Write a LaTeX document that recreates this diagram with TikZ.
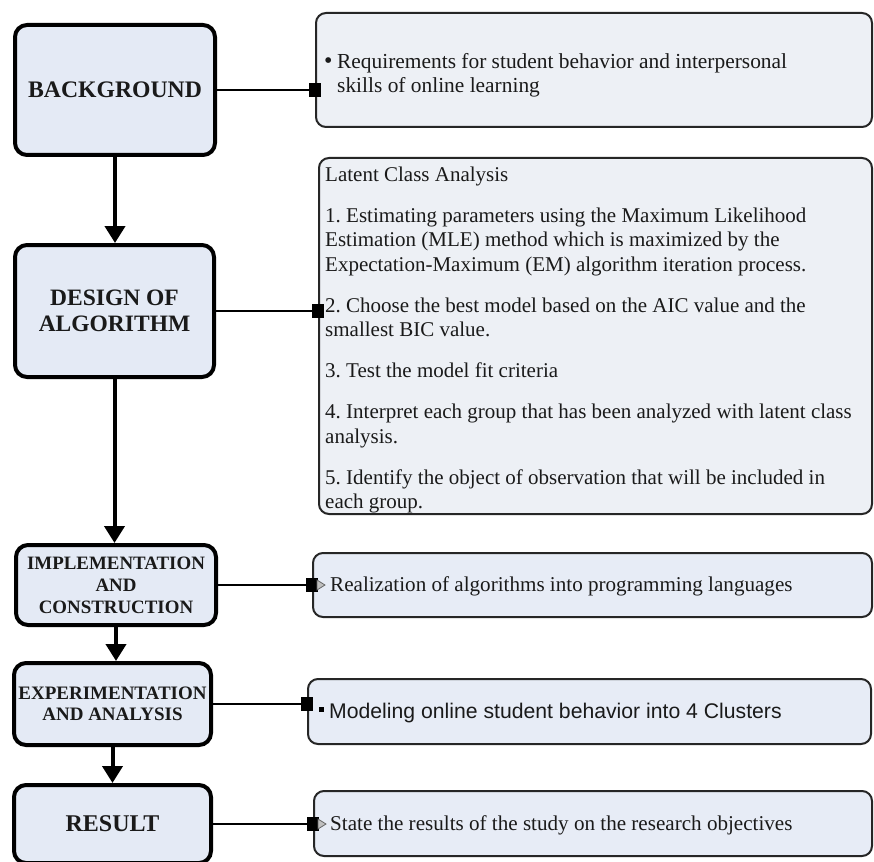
\documentclass[tikz,border=0pt]{standalone}
\usepackage{fontspec}
\setmainfont{Liberation Serif}
\setsansfont{Liberation Sans}
\usetikzlibrary{arrows.meta,calc}
\definecolor{lfill}{HTML}{E4EAF5}
\definecolor{rfillA}{HTML}{EDF0F5}
\definecolor{rfillB}{HTML}{E7ECF6}
\definecolor{inkc}{HTML}{1A1A1A}
\frenchspacing
\begin{document}
\begin{tikzpicture}[x=1pt,y=-1pt,
  lbox/.style={draw=black, line width=4pt, fill=lfill, rounded corners=12pt,
    inner sep=0pt, align=center, text=inkc},
  rbox/.style={draw=black!85, line width=2pt, rounded corners=10pt, inner sep=0pt},
  txt/.style={anchor=base west, inner sep=0pt, text=inkc,
    font=\fontsize{21}{24.5}\selectfont},
  stxt/.style={anchor=base west, inner sep=0pt, text=inkc,
    font=\sffamily\fontsize{21.2}{24.5}\selectfont},
  varrow/.style={line width=4pt, -{Triangle[length=17pt,width=20pt]}},
  conn/.style={line width=1.8pt, -{Square[length=12pt,width=14pt]}, shorten >=-6pt},
  tipmark/.style={draw=black!60, fill=black!25, line width=0.8pt}
]
\useasboundingbox (0,0) rectangle (874,861);
\fill[white] (0,0) rectangle (874,861);

% left column
\node[lbox, minimum width=200pt, minimum height=130pt,
  font=\bfseries\fontsize{23.7}{26}\selectfont] (bg) at (115,90) {BACKGROUND};
\node[lbox, minimum width=199pt, minimum height=132pt,
  font=\bfseries\fontsize{23.5}{26}\selectfont] (des) at (114.5,311) {DESIGN OF\\ALGORITHM};
\node[lbox, minimum width=200pt, minimum height=80pt,
  font=\bfseries\fontsize{18.9}{22}\selectfont] (imp) at (116,585) {IMPLEMENTATION\\AND\\CONSTRUCTION};
\node[lbox, minimum width=197pt, minimum height=82pt,
  font=\bfseries\fontsize{19}{21.5}\selectfont] (exp) at (112.5,704) {EXPERIMENTATION\\AND ANALYSIS};
\node[lbox, minimum width=197pt, minimum height=78pt,
  font=\bfseries\fontsize{24}{26}\selectfont] (res) at (112.5,824) {RESULT};

% right column boxes
\node[rbox, fill=rfillA, minimum width=556pt, minimum height=114pt] (r1) at (594,70) {};
\node[rbox, fill=rfillA, minimum width=553pt, minimum height=356pt] (r2) at (595.5,336) {};
\node[rbox, fill=rfillB, minimum width=559pt, minimum height=64pt] (r3) at (592.5,585) {};
\node[rbox, fill=rfillB, minimum width=563pt, minimum height=65pt] (r4) at (589.5,711.5) {};
\node[rbox, fill=rfillB, minimum width=558pt, minimum height=65pt] (r5) at (593,823.5) {};

% vertical arrows
\draw[varrow] (bg.south) -- (bg.south |- des.north);
\draw[varrow] (des.south) -- (des.south |- imp.north);
\draw[varrow] (imp.south) -- (imp.south |- exp.north);
\draw[varrow] (exp.south) -- (exp.south |- res.north);

% horizontal connectors
\draw[conn] (bg.east) -- (bg.east -| r1.west);
\draw[conn] (des.east) -- (des.east -| r2.west);
\draw[conn] (imp.east) -- (imp.east -| r3.west);
\draw[conn] (exp.east) -- (exp.east -| r4.west);
\draw[conn] (res.east) -- (res.east -| r5.west);
\draw[tipmark] ([shift={(5,-5)}]imp.east -| r3.west) -- ([shift={(13,0)}]imp.east -| r3.west)
  -- ([shift={(5,5)}]imp.east -| r3.west) -- cycle;
\draw[tipmark] ([shift={(5,-5)}]res.east -| r5.west) -- ([shift={(13,0)}]res.east -| r5.west)
  -- ([shift={(5,5)}]res.east -| r5.west) -- cycle;

% box 1 text
\node[txt, font=\fontsize{24}{24}\selectfont] (b1a) at (324,69) {•};
\node[txt, font=\fontsize{21.4}{24.5}\selectfont] (b1b) at (337,69) {Requirements for student behavior and interpersonal};
\node[txt, font=\fontsize{21.4}{24.5}\selectfont] (b1c) at (337,93) {skills of online learning};

% box 2 text
\node[txt] (l0) at (325,181) {Latent Class Analysis};
\node[txt] (l1) at (325,222) {1. Estimating parameters using the Maximum Likelihood};
\node[txt] (l2) at (325,246.5) {Estimation (MLE) method which is maximized by the};
\node[txt] (l3) at (325,271) {Expectation-Maximum (EM) algorithm iteration process.};
\node[txt] (l4) at (325,312) {2. Choose the best model based on the AIC value and the};
\node[txt] (l5) at (325,336.5) {smallest BIC value.};
\node[txt] (l6) at (325,377.5) {3. Test the model fit criteria};
\node[txt] (l7) at (325,418.5) {4. Interpret each group that has been analyzed with latent class};
\node[txt] (l8) at (325,443) {analysis.};
\node[txt] (l9) at (325,484) {5. Identify the object of observation that will be included in};
\node[txt] (l10) at (325,508.5) {each group.};

% box 3-5 text
\node[txt, font=\fontsize{21.1}{24.5}\selectfont] (t3) at (330,591.5) {Realization of algorithms into programming languages};
\fill[black] (318.5,707) rectangle (323.5,712);
\node[stxt] (t4) at (329,718) {Modeling online student behavior into 4 Clusters};
\node[txt, font=\fontsize{21.1}{24.5}\selectfont] (t5) at (330,830) {State the results of the study on the research objectives};
\end{tikzpicture}
\end{document}
